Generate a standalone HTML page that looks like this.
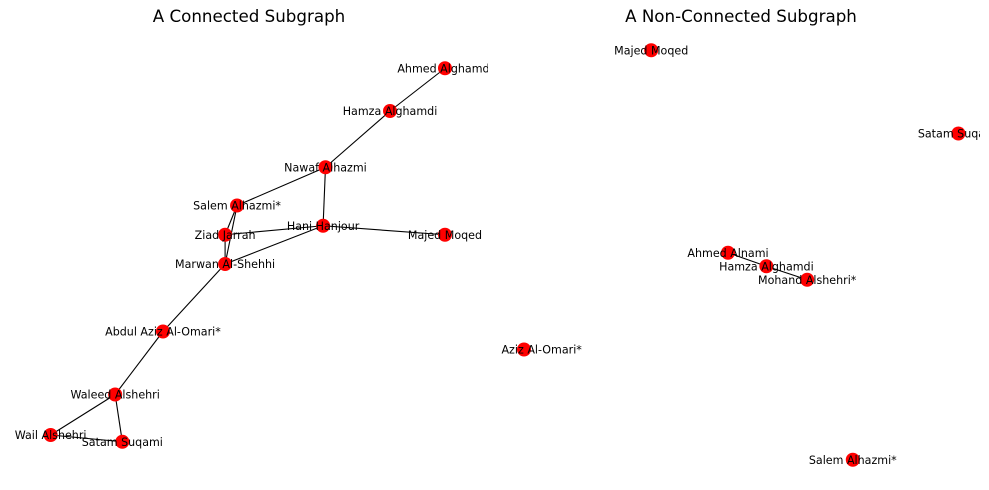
<!DOCTYPE html>
<html><head><meta charset="utf-8"><style>
body{margin:0;background:#fff;}
svg{display:block;font-family:"DejaVu Sans","Liberation Sans",sans-serif;}
</style></head><body>
<svg id="chart" width="989" height="490" viewBox="0 0 989 490" xmlns="http://www.w3.org/2000/svg">
<defs>
<clipPath id="clipL"><rect x="10" y="30" width="478" height="450"/></clipPath>
<clipPath id="clipR"><rect x="500" y="30" width="480" height="450"/></clipPath>
</defs>
<text x="249" y="22" text-anchor="middle" font-size="16.7">A Connected Subgraph</text>
<text x="741" y="22" text-anchor="middle" font-size="16.7">A Non-Connected Subgraph</text>
<g id="left" clip-path="url(#clipL)"></g>
<g id="right" clip-path="url(#clipR)"></g>
</svg>
<script>
const leftNames=["Ahmed Alghamdi","Hamza Alghamdi","Nawaf Alhazmi","Salem Alhazmi*","Hani Hanjour","Majed Moqed","Ziad Jarrah","Marwan Al-Shehhi","Abdul Aziz Al-Omari*","Waleed Alshehri","Wail Alshehri","Satam Suqami"];
const leftX=[0.82,0.59,0.32,-0.05,0.31,0.82,-0.10,-0.10,-0.36,-0.56,-0.83,-0.53];
const leftY=[0.83,0.64,0.39,0.22,0.13,0.09,0.09,-0.04,-0.34,-0.62,-0.80,-0.83];
const leftEdges=[[0,1],[1,2],[2,3],[2,4],[3,6],[3,7],[6,7],[6,4],[7,4],[4,5],[7,8],[8,9],[9,10],[9,11],[10,11]];
const rightNames=["Majed Moqed","Satam Suqami","Ahmed Alnami","Hamza Alghamdi","Mohand Alshehri*","Abdul Aziz Al-Omari*","Salem Alhazmi*"];
const rightX=[-0.37,0.91,-0.05,0.11,0.28,-0.90,0.47];
const rightY=[0.91,0.54,0.01,-0.05,-0.11,-0.42,-0.91];
const rightEdges=[[2,3],[3,4]];
const NS="http://www.w3.org/2000/svg";
function draw(gid,names,xs,ys,edges,cx,hw){
  const g=document.getElementById(gid);
  const sx=v=>cx+v*hw, sy=v=>255-v*225;
  edges.forEach(e=>{
    const l=document.createElementNS(NS,"line");
    
    
    l.setAttribute("x1",sx(xs[e[0]]));l.setAttribute("y1",sy(ys[e[0]]));
    l.setAttribute("x2",sx(xs[e[1]]));l.setAttribute("y2",sy(ys[e[1]]));
    l.setAttribute("stroke","#000");l.setAttribute("stroke-width","1.1");
    g.appendChild(l);
  });
  names.forEach((n,i)=>{
    const c=document.createElementNS(NS,"circle");
    
    
    c.setAttribute("cx",sx(xs[i]));c.setAttribute("cy",sy(ys[i]));c.setAttribute("r","7");
    c.setAttribute("fill","#ff0000");
    g.appendChild(c);
  });
  names.forEach((n,i)=>{
    const t=document.createElementNS(NS,"text");
    
    
    t.setAttribute("x",sx(xs[i]));t.setAttribute("y",sy(ys[i])+4);
    t.setAttribute("text-anchor","middle");t.setAttribute("font-size","11.1");
    t.textContent=n;
    g.appendChild(t);
  });
}
draw("left",leftNames,leftX,leftY,leftEdges,249,239);
draw("right",rightNames,rightX,rightY,rightEdges,740,240);
</script>
</body></html>
